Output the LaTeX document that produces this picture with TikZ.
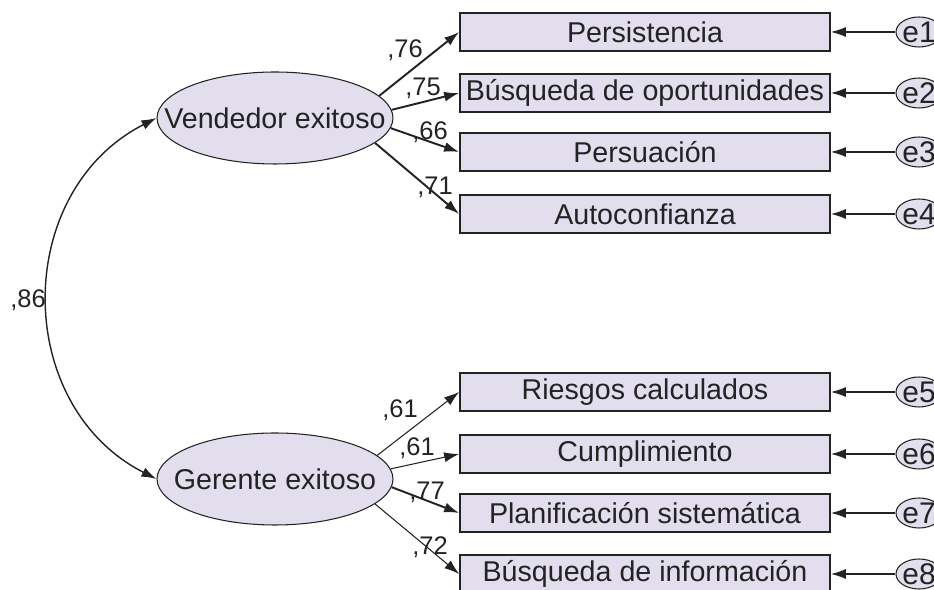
\documentclass[tikz,border=0pt]{standalone}
\usepackage{fontspec}
\setmainfont{Liberation Sans}
\usetikzlibrary{shapes.geometric,arrows.meta}
\definecolor{lavanda}{RGB}{226,222,238}
\definecolor{tinta}{RGB}{35,35,35}
\begin{document}
\begin{tikzpicture}[x=0.02cm, y=0.02cm, >={Latex[length=3mm,width=2mm]},
		every node/.style={text=tinta},
		latente/.style={ellipse, draw=tinta, fill=lavanda, line width=0.6pt, minimum width=4.72cm, minimum height=1.84cm, inner xsep=-0.6cm, inner ysep=0pt, font=\fontsize{16.3}{19}\selectfont},
		item/.style={rectangle, draw=tinta, fill=lavanda, line width=1pt, minimum width=7.4cm, minimum height=0.77cm, inner sep=0pt, font=\fontsize{16.3}{19}\selectfont},
		error/.style={ellipse, draw=tinta, fill=lavanda, line width=0.6pt, minimum width=0.92cm, minimum height=0.6cm, inner xsep=-2pt, inner ysep=-5pt, font=\fontsize{17}{18}\selectfont},
		carga/.style={inner sep=0pt, font=\fontsize{14.5}{16}\selectfont},
		fuerte/.style={->, draw=tinta, line width=1.1pt},
		debil/.style={->, draw=tinta, line width=0.6pt}]
	\useasboundingbox[fill=white] (0,0) rectangle (934,-590);
	% indicadores y errores
	\foreach \i/\y/\t in {1/32/Persistencia, 2/93/{Búsqueda de oportunidades}, 3/152/Persuación, 4/214/Autoconfianza,
			5/392/{Riesgos calculados}, 6/454/Cumplimiento, 7/513/{Planificación sistemática}, 8/574/{Búsqueda de información}} {
			\node[item] (b\i) at (645,-\y) {\t};
			\node[error] (e\i) at (919,-\y) {e\i};
			\draw[->, draw=tinta, line width=0.8pt] (e\i) -- (b\i);
		}
	% factores
	\node[latente] (ve) at (275,-118) {Vendedor exitoso};
	\node[latente] (ge) at (275,-479) {Gerente exitoso};
	\draw[<->, draw=tinta, line width=0.8pt] (ve.west) to[out=207, in=153, looseness=1.15] (ge.west);
	\node[carga] (c0) at (28,-300) {,86};
	% cargas
	\foreach \a/\j in {12/1, 4/2, -5/3, -14/4}
		\draw[fuerte] (ve.\a) -- (b\j.west);
	\draw[debil] (ge.13) -- (b5.west);
	\draw[debil] (ge.5) -- (b6.west);
	\draw[fuerte] (ge.-4) -- (b7.west);
	\draw[debil] (ge.-14) -- (b8.west);
	\node[carga] (c1) at (405,-50) {,76};
	\node[carga] (c2) at (423,-88) {,75};
	\node[carga] (c3) at (430,-132) {,66};
	\node[carga] (c4) at (435,-187) {,71};
	\node[carga] (c5) at (400,-410) {,61};
	\node[carga] (c6) at (417,-448) {,61};
	\node[carga] (c7) at (427,-492) {,77};
	\node[carga] (c8) at (430,-547) {,72};
\end{tikzpicture}
\end{document}
